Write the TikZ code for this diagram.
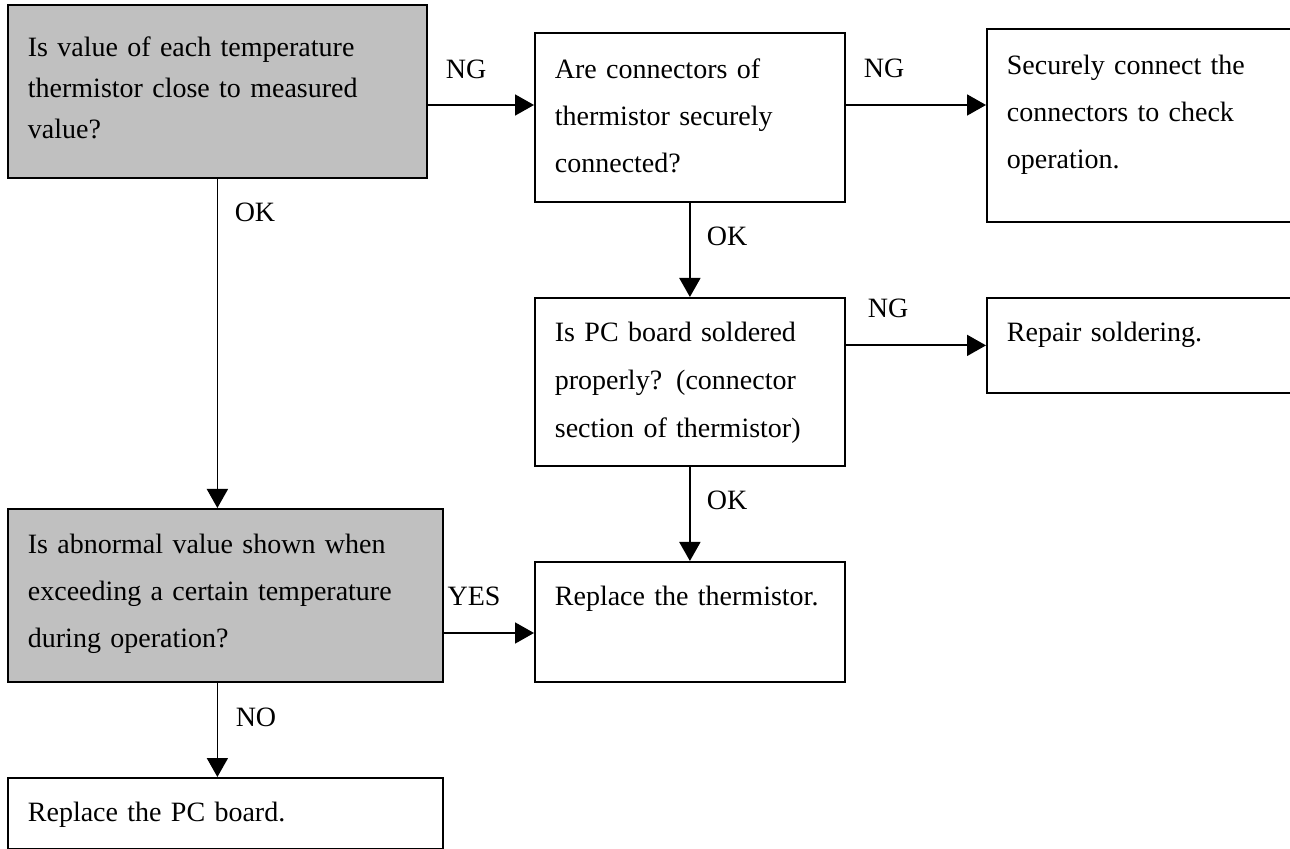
\documentclass[tikz,border=0pt]{standalone}
\usepackage{fontspec}
\setmainfont{Liberation Serif}
\usepackage{tikz}
\usetikzlibrary{arrows.meta}
\definecolor{askgray}{HTML}{C0C0C0}

\begin{document}
\begin{tikzpicture}[x=0.5pt, y=-0.5pt, every node/.style={font=\fontsize{14}{23.5}\selectfont}]
        \tikzset{chk/.style={draw, line width=0.9pt, anchor=north west, align=left, inner xsep=10pt, inner ysep=0pt, text height=22.5pt}}
        \tikzset{ask/.style={chk, fill=askgray}}
        \tikzset{flow/.style={-{Triangle[length=9.5pt,width=10.5pt]}, line width=0.9pt}}
        \useasboundingbox (0,0) rectangle (1290,849);
        % left column
        \node[ask, text width=189.5pt, text height=26pt, text depth=60.5pt, font=\fontsize{14}{20.5}\selectfont] (A) at (7,4)
            {Is value of each temperature\\thermistor close to measured\\value?};
        \node[ask, text width=197.5pt, text depth=64pt] (F) at (7,508)
            {Is abnormal value shown when\\exceeding a certain temperature\\during operation?};
        \node[chk, text width=197.5pt, text height=22pt, text depth=13.5pt] (H) at (7,777) {Replace the PC board.};
        % middle column
        \node[chk, text width=135pt, text height=23pt, text depth=61.5pt] (B) at (534,32)
            {Are connectors of\\thermistor securely\\connected?};
        \node[chk, text width=135pt, text height=22pt, text depth=62pt, font=\fontsize{14}{24}\selectfont] (D) at (534,297)
            {Is PC board soldered\\properly? (connector\\section of thermistor)};
        \node[chk, text width=135pt, text height=22pt, text depth=38pt] (G) at (534,561) {Replace the thermistor.};
        % right column
        \node[chk, text width=137pt, text height=23pt, text depth=73.5pt] (C) at (986,28)
            {Securely connect the\\connectors to check\\operation.};
        \node[chk, text width=137pt, text height=22pt, text depth=25.5pt] (E) at (986,297) {Repair soldering.};
        % arrows
        \coordinate (ngrow) at (0,105);
        \coordinate (yesrow) at (0,633);
        \draw[flow] (A.east |- ngrow) -- (B.west |- ngrow);
        \draw[flow] (B.east |- ngrow) -- (C.west |- ngrow);
        \draw[flow] (D.east |- E.west) -- (E.west);
        \draw[flow] (F.east |- yesrow) -- (G.west |- yesrow);
        \path (B) edge [flow] (D);
        \path (D) edge [flow] (G);
        \draw[flow] (A.south) -- (A.south |- F.north);
        \draw[flow] (A.south |- F.south) -- (A.south |- H.north);
        % answers
        \node (ng1) at (466,69) {NG};
        \node (ng2) at (884,68) {NG};
        \node (ng3) at (888,308) {NG};
        \node (ok1) at (255,212) {OK};
        \node (ok2) at (727,236) {OK};
        \node (ok3) at (727,500) {OK};
        \node (yes) at (474,596) {YES};
        \node (no) at (256,717) {NO};
\end{tikzpicture}
\end{document}
